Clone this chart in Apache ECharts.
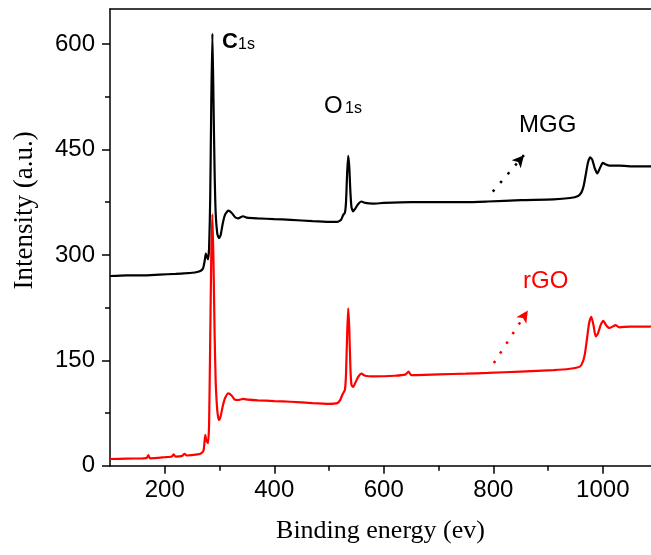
<!DOCTYPE html>
<html>
<head>
<meta charset="utf-8">
<script src="https://cdn.jsdelivr.net/npm/echarts@6/dist/echarts.min.js"></script>
<style>
html,body{margin:0;padding:0;background:#fff;}
#chart{width:651px;height:555px;}
</style>
</head>
<body>
<div id="chart"></div>
<script>
// Binding energy (eV) and intensity (a.u.)
var mggEnergy = [100,130,160,190,220,240,255,265,270,273,275,277,279,281,283,285,287,289,291,293,296,299,302,306,310,316,322,328,334,343,350,370,400,430,470,500,515,522,526,529,531,533,535,537,539,541,544,548,553,559,566,580,600,650,700,750,790,850,910,940,955,961,965,969,973,977,981,985,990,995,1000,1005,1012,1030,1060,1085,1100];
var mggIntensity = [270,271,271,272,273,274,275,277,281,292,302,297,294,310,380,520,615,520,420,360,330,324,328,345,357,363,360,354,352,355,353,352,351,350,348,347,347,350,357,360,375,415,441,425,390,368,362,366,372,376,374,373,374,375,375,375,376,378,379,381,384,389,398,415,432,439,435,424,416,424,431,429,427,427,426,426,426];

var rgoEnergy = [100,130,160,167,170,173,200,213,216,220,232,236,240,260,267,271,274,276,279,281,283,285,287,289,291,293,296,299,302,306,310,316,322,328,334,343,352,370,400,430,470,500,515,520,525,529,531,533,535,537,539,541,544,548,553,559,566,580,620,640,645,650,700,750,790,850,910,940,958,963,967,971,975,979,983,987,991,996,1001,1006,1012,1018,1023,1030,1050,1085,1100];
var rgoIntensity = [9.5,10,10.5,11,15,10.5,12,13,16,13,14,17,14.5,16,18,22,44,36,32,60,180,300,358,290,190,120,78,65,70,85,96,103,100,94,93.5,95,94,93,92,91,89,88,89,93,102,108,130,185,224,195,140,115,112,118,126,131,128,127,128,130,134,129,130,131,132,134,136,138,141,147,158,180,203,212,200,184,188,200,206,200,196,198,200,197,198,198,199];

var xMajorTicks = [200,400,600,800,1000];
var xMinorTicks = [300,500,700,900];
var yMajorTicks = [0,150,300,450,600];
var yMinorTicks = [75,225,375,525];

var seriesNames = ['MGG','rGO'];
var peakLabels = ['C', 'O'];

// Arrow endpoints in data coordinates
var mggArrow = [[799,390],[856,442]];
var rgoArrow = [[801,146],[863,221]];

function zip(a,b){ return a.map(function(v,i){ return [v,b[i]]; }); }

var chart = echarts.init(document.getElementById('chart'), null, {renderer:'canvas'});
var sans = 'Liberation Sans, Arial, sans-serif';
var serif = 'Liberation Serif, Times New Roman, serif';
var plain = function(v){ return String(v); };

var option = {
  backgroundColor:'#fff',
  animation:false,
  grid:{left:110, top:9, right:0, bottom:89.3, show:false},
  xAxis:[{
    type:'value', min:100, max:1088,
    name:'Binding energy (ev)', nameLocation:'middle', nameGap:52,
    nameTextStyle:{fontFamily:serif, fontSize:26, color:'#000', padding:[0,0,0,0]},
    axisLine:{show:true, lineStyle:{color:'#000', width:1.5}},
    axisTick:{show:true, customValues:xMajorTicks, length:8, lineStyle:{color:'#000', width:1.5}},
    axisLabel:{show:true, customValues:xMajorTicks, formatter:plain, margin:13, fontFamily:sans, fontSize:24, color:'#000'},
    splitLine:{show:false}
  },{
    type:'value', min:100, max:1088, position:'bottom',
    axisLine:{show:false},
    axisTick:{show:true, customValues:xMinorTicks, length:5, lineStyle:{color:'#000', width:1.5}},
    axisLabel:{show:false},
    splitLine:{show:false}
  },{
    type:'value', min:100, max:1088, position:'top',
    axisLine:{show:true, lineStyle:{color:'#000', width:1.5}},
    axisTick:{show:false}, axisLabel:{show:false}, splitLine:{show:false}
  }],
  yAxis:[{
    type:'value', min:0, max:650,
    name:'Intensity (a.u.)', nameLocation:'middle', nameGap:72, nameRotate:90,
    nameTextStyle:{fontFamily:serif, fontSize:27, color:'#000', padding:[0,0,0,54]},
    axisLine:{show:true, lineStyle:{color:'#000', width:1.5}},
    axisTick:{show:true, customValues:yMajorTicks, length:8, lineStyle:{color:'#000', width:1.5}},
    axisLabel:{show:true, customValues:yMajorTicks, formatter:plain, margin:15, fontFamily:sans, fontSize:24, color:'#000'},
    splitLine:{show:false}
  },{
    type:'value', min:0, max:650, position:'left',
    axisLine:{show:false},
    axisTick:{show:true, customValues:yMinorTicks, length:5, lineStyle:{color:'#000', width:1.5}},
    axisLabel:{show:false},
    splitLine:{show:false}
  }],
  series:[{
    name:seriesNames[0], type:'line', data:zip(mggEnergy,mggIntensity),
    showSymbol:false, symbol:'none', smooth:0.2,
    lineStyle:{color:'#000', width:2.2},
    markLine:{silent:true, symbol:['none','arrow'], symbolSize:[9,12], label:{show:false},
      lineStyle:{color:'#000', type:[2.5,9], width:2.5},
      data:[[{coord:mggArrow[0]},{coord:mggArrow[1]}]]}
  },{
    name:seriesNames[1], type:'line', data:zip(rgoEnergy,rgoIntensity),
    showSymbol:false, symbol:'none', smooth:0.2,
    lineStyle:{color:'#ff0000', width:2.2},
    markLine:{silent:true, symbol:['none','arrow'], symbolSize:[9,12], label:{show:false},
      lineStyle:{color:'#ff0000', type:[2.5,9], width:2.5},
      data:[[{coord:rgoArrow[0]},{coord:rgoArrow[1]}]]}
  }],
  graphic:[
    {type:'text', left:222, top:31, style:{text:peakLabels[0], font:'bold 22px '+sans, fill:'#000'}},
    {type:'text', left:238, top:37, style:{text:'1s', font:'16px '+sans, fill:'#000'}},
    {type:'text', left:324, top:94, style:{text:peakLabels[1], font:'24px '+sans, fill:'#000'}},
    {type:'text', left:345, top:101, style:{text:'1s', font:'16px '+sans, fill:'#000'}},
    {type:'text', left:519, top:113, style:{text:seriesNames[0], font:'24px '+sans, fill:'#000'}},
    {type:'text', left:523, top:269, style:{text:seriesNames[1], font:'24px '+sans, fill:'#ff0000'}}
  ]
};
chart.setOption(option);
</script>
</body>
</html>
